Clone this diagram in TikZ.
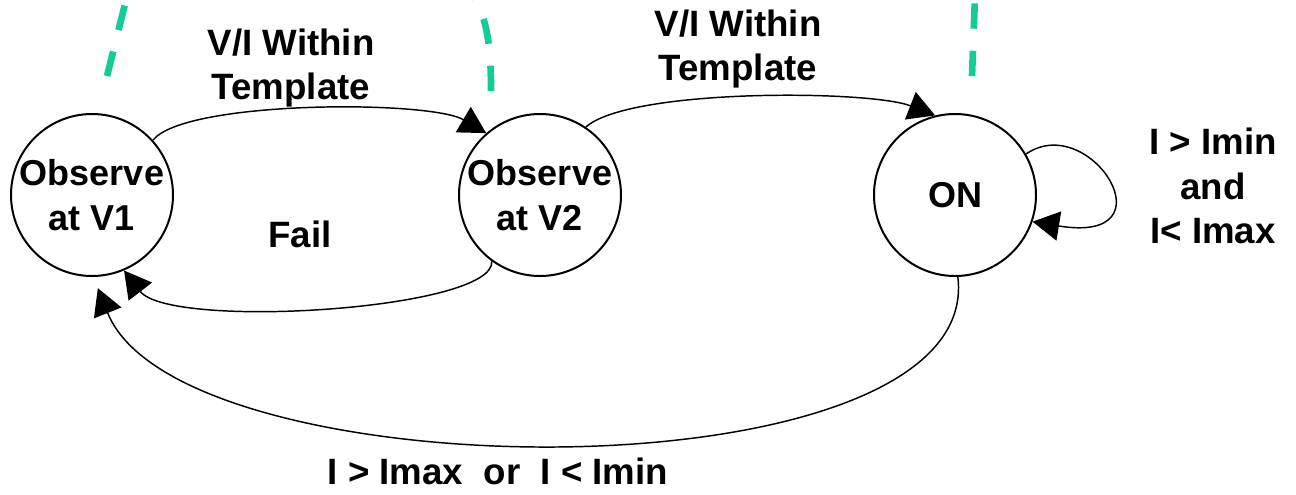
\documentclass[tikz,border=0pt]{standalone}
\usepackage{fontspec}
\setmainfont{Liberation Sans}
\usetikzlibrary{arrows.meta}
\definecolor{dashgreen}{RGB}{20,205,150}
\begin{document}
\begin{tikzpicture}[x=0.75pt,y=-0.75pt,
  state/.style={circle,draw,line width=1.5pt,minimum size=121.5pt,inner sep=0pt,align=center,font=\fontsize{27}{34}\selectfont\bfseries},
  lab/.style={align=center,font=\fontsize{27.5}{33.5}\selectfont\bfseries,inner sep=0pt},
  conn/.style={line width=1.1pt,-{Triangle[length=20pt,width=22pt]}},
  guide/.style={dashgreen,line width=5pt,dash pattern=on 19pt off 16.5pt}]
\useasboundingbox (0,0) rectangle (1296,494);

\node[state] (v1) at (92,195) {Observe\\at V1};
\node[state] (v2) at (540,195) {Observe\\at V2};
\node[state] (on) at (955,195) {ON};

\node[lab] (l1) at (291,68) {V/I Within\\Template};
\node[lab] (l2) at (738,49) {V/I Within\\Template};
\node[lab] (lf) at (300,234) {Fail};
\node[lab] (lr) at (1213,186) {I > Imin\\and\\I< Imax};
\node[lab] (lb) at (498,471) {I > Imax\ \ or\ \ I < Imin};

\draw[conn] (v1.42) .. controls (185,100) and (430,100) .. (v2.131);
\draw[conn] (v2.56) .. controls (630,88) and (870,90) .. (on.104);
\draw[conn] (v2.234) .. controls (495,310) and (170,330) .. (v1.-67);
\draw[conn,shorten >=9pt] (on.-88) .. controls (985,500) and (180,495) .. (v1.-89);
\draw[conn] (on.30) .. controls (1090,110) and (1175,245) .. (on.-19);

\coordinate (g1a) at (107,76); \coordinate (g1b) at (127,-4);
\coordinate (g2a) at (491,91); \coordinate (g2b) at (470,-10);
\coordinate (g3a) at (972,76); \coordinate (g3b) at (975,-4);
\draw[guide] (g1a) -- (g1b);
\draw[guide] (g2a) .. controls (491,40) and (486,15) .. (g2b);
\draw[guide] (g3a) -- (g3b);
\end{tikzpicture}
\end{document}
